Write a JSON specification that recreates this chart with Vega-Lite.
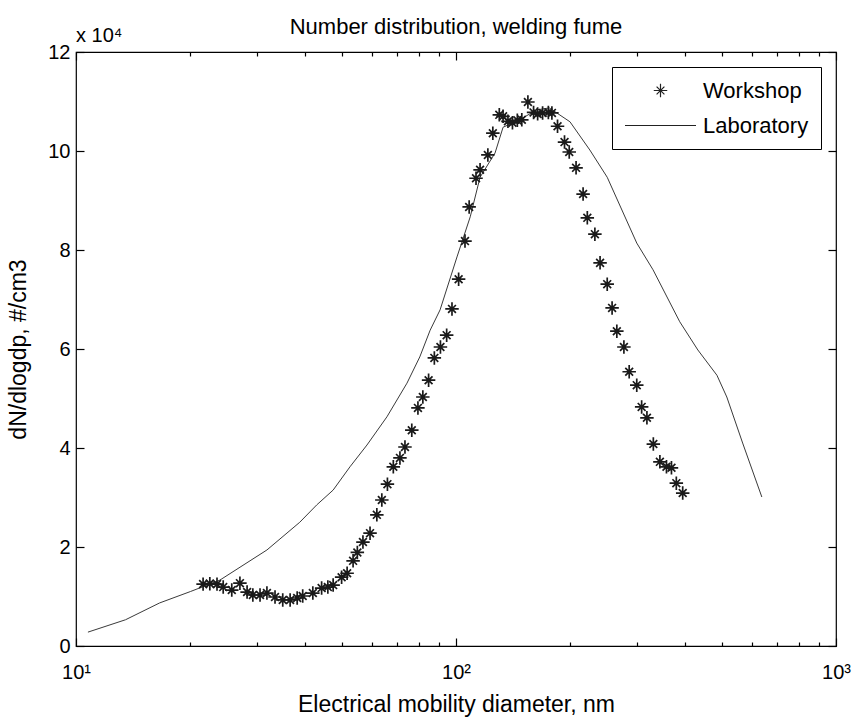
{
  "$schema": "https://vega.github.io/schema/vega-lite/v6.json",
  "width": 760,
  "height": 594,
  "autosize": {"type": "none"},
  "padding": {"left": 76, "top": 52, "right": 16, "bottom": 71},
  "background": "white",
  "title": {"text": "Number distribution, welding fume", "fontSize": 22, "fontWeight": "normal", "font": "Liberation Sans", "color": "#000", "offset": -13, "anchor": "middle"},
  "config": {
    "view": {"stroke": "#000", "strokeWidth": 1.2},
    "axis": {"domain": false, "grid": false, "tickColor": "#000", "tickWidth": 1.2, "labelColor": "#000", "titleColor": "#000", "labelFont": "Liberation Sans", "titleFont": "Liberation Sans", "labelFontSize": 20, "titleFontSize": 23, "titleFontWeight": "normal", "labelFlush": false, "labelOverlap": false}
  },
  "datasets": {
    "workshop": [
      {"d": 21.6, "n": 12500, "series": "Workshop"},
      {"d": 22.5, "n": 12600, "series": "Workshop"},
      {"d": 23.5, "n": 12500, "series": "Workshop"},
      {"d": 24.4, "n": 11900, "series": "Workshop"},
      {"d": 25.7, "n": 11300, "series": "Workshop"},
      {"d": 27.0, "n": 12700, "series": "Workshop"},
      {"d": 28.2, "n": 10900, "series": "Workshop"},
      {"d": 29.2, "n": 10300, "series": "Workshop"},
      {"d": 30.5, "n": 10300, "series": "Workshop"},
      {"d": 31.8, "n": 10700, "series": "Workshop"},
      {"d": 33.4, "n": 9900, "series": "Workshop"},
      {"d": 35.0, "n": 9300, "series": "Workshop"},
      {"d": 36.6, "n": 9300, "series": "Workshop"},
      {"d": 38.2, "n": 9700, "series": "Workshop"},
      {"d": 39.5, "n": 10100, "series": "Workshop"},
      {"d": 42.0, "n": 10700, "series": "Workshop"},
      {"d": 44.3, "n": 11700, "series": "Workshop"},
      {"d": 46.0, "n": 11900, "series": "Workshop"},
      {"d": 47.5, "n": 12300, "series": "Workshop"},
      {"d": 50.0, "n": 13900, "series": "Workshop"},
      {"d": 51.7, "n": 14700, "series": "Workshop"},
      {"d": 53.6, "n": 17200, "series": "Workshop"},
      {"d": 55.0, "n": 18900, "series": "Workshop"},
      {"d": 56.9, "n": 21000, "series": "Workshop"},
      {"d": 59.4, "n": 22800, "series": "Workshop"},
      {"d": 61.9, "n": 26500, "series": "Workshop"},
      {"d": 63.8, "n": 29500, "series": "Workshop"},
      {"d": 66.0, "n": 32700, "series": "Workshop"},
      {"d": 68.4, "n": 36200, "series": "Workshop"},
      {"d": 71.2, "n": 38000, "series": "Workshop"},
      {"d": 73.4, "n": 40200, "series": "Workshop"},
      {"d": 76.5, "n": 43600, "series": "Workshop"},
      {"d": 79.4, "n": 48100, "series": "Workshop"},
      {"d": 81.8, "n": 50300, "series": "Workshop"},
      {"d": 84.7, "n": 53700, "series": "Workshop"},
      {"d": 87.7, "n": 58200, "series": "Workshop"},
      {"d": 91.0, "n": 60400, "series": "Workshop"},
      {"d": 94.5, "n": 62800, "series": "Workshop"},
      {"d": 97.6, "n": 68100, "series": "Workshop"},
      {"d": 101.6, "n": 74100, "series": "Workshop"},
      {"d": 105.6, "n": 81800, "series": "Workshop"},
      {"d": 108.3, "n": 88700, "series": "Workshop"},
      {"d": 112.9, "n": 94500, "series": "Workshop"},
      {"d": 115.7, "n": 96200, "series": "Workshop"},
      {"d": 121.3, "n": 99200, "series": "Workshop"},
      {"d": 125.0, "n": 103600, "series": "Workshop"},
      {"d": 130.0, "n": 107300, "series": "Workshop"},
      {"d": 133.0, "n": 107000, "series": "Workshop"},
      {"d": 137.0, "n": 106000, "series": "Workshop"},
      {"d": 140.8, "n": 105700, "series": "Workshop"},
      {"d": 145.0, "n": 106200, "series": "Workshop"},
      {"d": 149.0, "n": 106300, "series": "Workshop"},
      {"d": 154.6, "n": 109900, "series": "Workshop"},
      {"d": 160.0, "n": 107800, "series": "Workshop"},
      {"d": 164.0, "n": 107500, "series": "Workshop"},
      {"d": 169.0, "n": 107700, "series": "Workshop"},
      {"d": 175.0, "n": 107800, "series": "Workshop"},
      {"d": 178.8, "n": 107700, "series": "Workshop"},
      {"d": 185.0, "n": 105000, "series": "Workshop"},
      {"d": 193.0, "n": 101800, "series": "Workshop"},
      {"d": 198.6, "n": 99800, "series": "Workshop"},
      {"d": 207.0, "n": 96600, "series": "Workshop"},
      {"d": 216.0, "n": 91300, "series": "Workshop"},
      {"d": 221.6, "n": 86500, "series": "Workshop"},
      {"d": 232.0, "n": 83200, "series": "Workshop"},
      {"d": 239.4, "n": 77400, "series": "Workshop"},
      {"d": 250.0, "n": 73100, "series": "Workshop"},
      {"d": 257.5, "n": 68300, "series": "Workshop"},
      {"d": 265.0, "n": 63600, "series": "Workshop"},
      {"d": 276.6, "n": 60400, "series": "Workshop"},
      {"d": 285.6, "n": 55400, "series": "Workshop"},
      {"d": 299.0, "n": 52700, "series": "Workshop"},
      {"d": 308.0, "n": 48300, "series": "Workshop"},
      {"d": 318.0, "n": 46100, "series": "Workshop"},
      {"d": 330.6, "n": 40800, "series": "Workshop"},
      {"d": 344.0, "n": 37200, "series": "Workshop"},
      {"d": 358.0, "n": 36200, "series": "Workshop"},
      {"d": 369.0, "n": 36000, "series": "Workshop"},
      {"d": 380.0, "n": 32900, "series": "Workshop"},
      {"d": 395.0, "n": 30900, "series": "Workshop"}
    ],
    "lab": [
      {"d": 10.75, "n": 2800},
      {"d": 13.5, "n": 5300},
      {"d": 16.6, "n": 8700},
      {"d": 20.0, "n": 11000},
      {"d": 23.9, "n": 13300},
      {"d": 31.8, "n": 19400},
      {"d": 38.8, "n": 25000},
      {"d": 43.0, "n": 28500},
      {"d": 47.5, "n": 31500},
      {"d": 52.6, "n": 36200},
      {"d": 58.3, "n": 40600},
      {"d": 65.8, "n": 46300},
      {"d": 74.3, "n": 53100},
      {"d": 80.3, "n": 58400},
      {"d": 85.5, "n": 63800},
      {"d": 90.8, "n": 67900},
      {"d": 100.6, "n": 78600},
      {"d": 109.0, "n": 86700},
      {"d": 115.7, "n": 94700},
      {"d": 126.7, "n": 99600},
      {"d": 133.0, "n": 104800},
      {"d": 147.0, "n": 106300},
      {"d": 163.0, "n": 108300},
      {"d": 176.0, "n": 108700},
      {"d": 199.5, "n": 105900},
      {"d": 225.0, "n": 100200},
      {"d": 250.0, "n": 94700},
      {"d": 299.0, "n": 81400},
      {"d": 330.0, "n": 76000},
      {"d": 388.0, "n": 65500},
      {"d": 433.0, "n": 59800},
      {"d": 486.0, "n": 54700},
      {"d": 516.0, "n": 50300},
      {"d": 568.0, "n": 41000},
      {"d": 638.0, "n": 30100}
    ],
    "note": [
      {"d": 10, "n": 120000, "label": "x 10⁴"}
    ]
  },
  "layer": [
    {
      "data": {"name": "lab"},
      "mark": {"type": "line", "color": "#3a3a3a", "strokeWidth": 1, "interpolate": "linear"},
      "encoding": {
        "x": {"field": "d", "type": "quantitative", "scale": {"type": "log", "domain": [10, 1000], "nice": false},
          "axis": {"orient": "bottom", "values": [20,30,40,50,60,70,80,90,200,300,400,500,600,700,800,900], "tickSize": -4, "labels": false, "title": null}},
        "y": {"field": "n", "type": "quantitative", "scale": {"domain": [0, 120000], "nice": false},
          "axis": {"orient": "right", "values": [0,20000,40000,60000,80000,100000,120000], "tickSize": -8, "labels": false, "title": null}}
      }
    },
    {
      "data": {"name": "workshop"},
      "mark": {"type": "point", "filled": false, "color": "#1a1a1a", "strokeWidth": 1.7, "size": 5041, "opacity": 1},
      "encoding": {
        "x": {"field": "d", "type": "quantitative", "scale": {"type": "log", "domain": [10, 1000], "nice": false},
          "axis": {"orient": "bottom", "values": [10, 100, 1000], "tickSize": -8, "labelPadding": 24,
            "labelExpr": "datum.value == 10 ? '10¹' : datum.value == 100 ? '10²' : '10³'",
            "title": "Electrical mobility diameter, nm", "titlePadding": 11}},
        "y": {"field": "n", "type": "quantitative", "scale": {"domain": [0, 120000], "nice": false},
          "axis": {"orient": "left", "values": [0,20000,40000,60000,80000,100000,120000], "tickSize": -8, "labelPadding": 14,
            "labelExpr": "format(datum.value / 10000, 'd')",
            "title": "dN/dlogdp, #/cm3", "titlePadding": 17}},
        "shape": {"field": "series", "type": "nominal",
          "scale": {"domain": ["Workshop", "Laboratory"], "range": ["M-0.19,0L0.19,0M0,-0.19L0,0.19M-0.11,-0.11L0.11,0.11M-0.11,0.11L0.11,-0.11", "stroke"]},
          "legend": {"title": null, "orient": "top-right", "offset": 15, "padding": 12, "strokeColor": "#000", "fillColor": "#fff",
            "labelFont": "Liberation Sans", "labelFontSize": 22, "labelColor": "#000",
            "symbolSize": 5041, "symbolStrokeColor": "#222", "symbolFillColor": "transparent", "symbolStrokeWidth": 1.2,
            "symbolOffset": 0, "labelOffset": 6, "rowPadding": 12, "clipHeight": 23}}
      }
    },
    {
      "data": {"name": "note"},
      "mark": {"type": "text", "align": "left", "baseline": "alphabetic", "dy": -10, "fontSize": 20, "font": "Liberation Sans", "color": "#000"},
      "encoding": {
        "x": {"field": "d", "type": "quantitative", "scale": {"type": "log", "domain": [10, 1000], "nice": false},
          "axis": {"orient": "top", "values": [10, 100, 1000], "tickSize": -8, "labels": false, "title": null}},
        "y": {"field": "n", "type": "quantitative", "scale": {"domain": [0, 120000], "nice": false}, "axis": null},
        "text": {"field": "label"}
      }
    },
    {
      "data": {"name": "lab"},
      "mark": {"type": "line", "opacity": 0},
      "encoding": {
        "x": {"field": "d", "type": "quantitative", "scale": {"type": "log", "domain": [10, 1000], "nice": false},
          "axis": {"orient": "top", "values": [20,30,40,50,60,70,80,90,200,300,400,500,600,700,800,900], "tickSize": -4, "labels": false, "title": null}},
        "y": {"field": "n", "type": "quantitative", "scale": {"domain": [0, 120000], "nice": false}, "axis": null}
      }
    }
  ],
  "resolve": {"axis": {"x": "independent", "y": "independent"}}
}
